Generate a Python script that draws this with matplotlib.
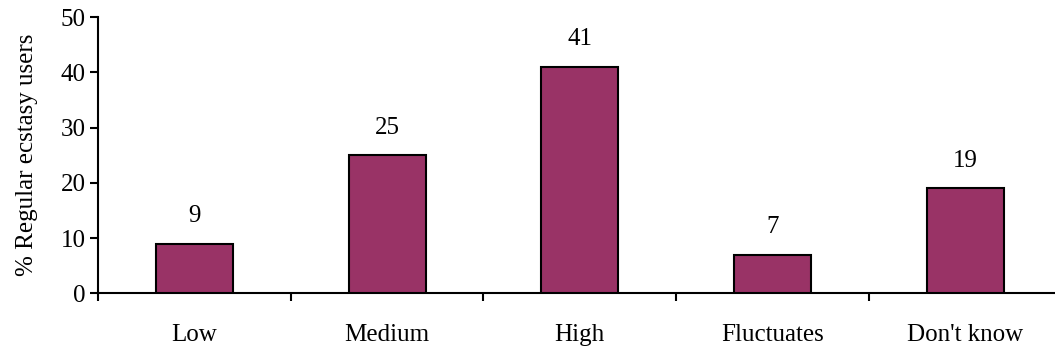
import numpy as np
import matplotlib.pyplot as plt

categories = ["Low", "Medium", "High", "Fluctuates", "Don't know"]
values = [9, 25, 41, 7, 19]

plt.rcParams['font.family'] = ['Liberation Serif', 'DejaVu Serif']
FS = 18

fig = plt.figure(figsize=(10.55, 3.52), dpi=100)
ax = fig.add_axes([0.0929, 0.1667, 0.9133, 0.7843])

x = np.arange(len(categories))
ax.bar(x, values, width=0.4, color='#993366', edgecolor='black', linewidth=1.5, zorder=3)

for xi, v in zip(x, values):
    ax.annotate(str(v), (xi, v), xytext=(0, 12), textcoords='offset points',
                ha='center', va='bottom', fontsize=FS)

ax.set_xlim(-0.5, len(categories) - 0.5)
ax.set_ylim(0, 50)
ax.set_yticks(range(0, 51, 10))
ax.tick_params(axis='y', direction='out', length=6, width=1.5, labelsize=FS, pad=3)

# category labels centred, ticks at the boundaries
ax.set_xticks(x)
ax.set_xticklabels(categories, fontsize=FS)
ax.tick_params(axis='x', which='major', length=0, pad=22)
ax.set_xticks(np.arange(-0.5, len(categories), 1.0), minor=True)
ax.tick_params(axis='x', which='minor', direction='out', length=6, width=1.5)

ax.set_ylabel('% Regular ecstasy users', fontsize=FS, labelpad=16)

for side in ['top', 'right']:
    ax.spines[side].set_visible(False)
for side in ['left', 'bottom']:
    ax.spines[side].set_linewidth(1.5)

fig.savefig('out.png', dpi=100)
